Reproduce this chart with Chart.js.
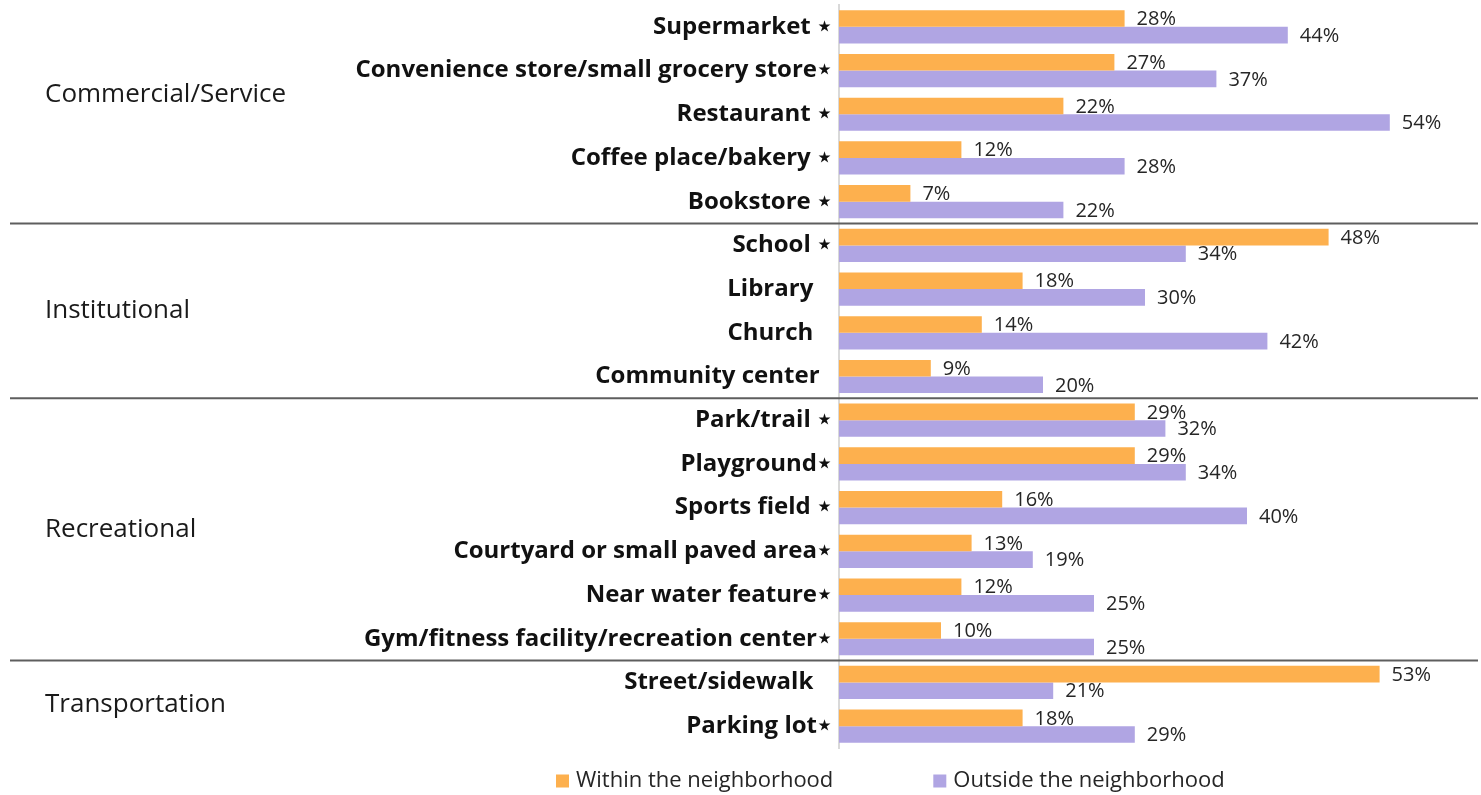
<!DOCTYPE html>
<html>
<head>
<meta charset="utf-8">
<script src="https://cdn.jsdelivr.net/npm/chart.js@4.4.1/dist/chart.umd.min.js"></script>
<style>
  html, body { margin: 0; padding: 0; background: #ffffff; }
  #wrap { width: 1481px; height: 795px; }
</style>
</head>
<body>
<div id="wrap"><canvas id="chart" width="1481" height="795"></canvas></div>
<script>
// Places where people spend time, by setting
const places = [
  "Supermarket \u22C6",
  "Convenience store/small grocery store\u22C6",
  "Restaurant \u22C6",
  "Coffee place/bakery \u22C6",
  "Bookstore \u22C6",
  "School \u22C6",
  "Library   ",
  "Church   ",
  "Community center  ",
  "Park/trail \u22C6",
  "Playground\u22C6",
  "Sports field \u22C6",
  "Courtyard or small paved area\u22C6",
  "Near water feature\u22C6",
  "Gym/fitness facility/recreation center\u22C6",
  "Street/sidewalk   ",
  "Parking lot\u22C6"
];

// Share of respondents (%)
const withinNeighborhood  = [28, 27, 22, 12, 7, 48, 18, 14, 9, 29, 29, 16, 13, 12, 10, 53, 18];
const outsideNeighborhood = [44, 37, 54, 28, 22, 34, 30, 42, 20, 32, 34, 40, 19, 25, 25, 21, 29];

const seriesNames = ["Within the neighborhood", "Outside the neighborhood"];

// Setting groups: first and last row index of each
const groupNames = ["Commercial/Service", "Institutional", "Recreational", "Transportation"];
const groupFirst = [0, 5, 9, 15];
const groupLast  = [4, 8, 14, 16];

const ORANGE = "#FDB04E";
const PURPLE = "#B0A5E3";
const FONT = "'Open Sans', 'Liberation Sans', sans-serif";

// Value labels at the end of each bar
const valueLabels = {
  id: "valueLabels",
  afterDatasetsDraw(chart) {
    const ctx = chart.ctx;
    ctx.save();
    ctx.font = "20px " + FONT;
    ctx.fillStyle = "#262626";
    ctx.textAlign = "left";
    ctx.textBaseline = "middle";
    chart.data.datasets.forEach((ds, di) => {
      const meta = chart.getDatasetMeta(di);
      meta.data.forEach((bar, i) => {
        ctx.fillText(ds.data[i] + "%", bar.x + 12, bar.y + 1);
      });
    });
    ctx.restore();
  }
};

// Group dividers and group names on the left
const groupMarks = {
  id: "groupMarks",
  afterDraw(chart, args, opts) {
    const ctx = chart.ctx;
    const y = chart.scales.y;
    ctx.save();
    // dividers between groups
    ctx.strokeStyle = "#5e5e5e";
    ctx.lineWidth = 2;
    for (let g = 0; g < groupLast.length - 1; g++) {
      const yy = (y.getPixelForValue(groupLast[g]) + y.getPixelForValue(groupFirst[g + 1])) / 2;
      ctx.beginPath();
      ctx.moveTo(opts.lineLeft, yy);
      ctx.lineTo(opts.lineRight, yy);
      ctx.stroke();
    }
    // group names
    ctx.font = "26px " + FONT;
    ctx.fillStyle = "#1a1a1a";
    ctx.textAlign = "left";
    ctx.textBaseline = "middle";
    groupNames.forEach((name, g) => {
      const mid = (y.getPixelForValue(groupFirst[g]) + y.getPixelForValue(groupLast[g])) / 2;
      ctx.fillText(name, opts.textLeft, mid + opts.nudge[g]);
    });
    ctx.restore();
  }
};

// Legend row under the plot
const bottomLegend = {
  id: "bottomLegend",
  afterDraw(chart, args, opts) {
    const ctx = chart.ctx;
    ctx.save();
    ctx.font = "22px " + FONT;
    ctx.textBaseline = "middle";
    ctx.textAlign = "left";
    let x = opts.left;
    chart.data.datasets.forEach((ds) => {
      ctx.fillStyle = ds.backgroundColor;
      ctx.fillRect(x, opts.y - 6.5, 13, 13);
      ctx.fillStyle = "#262626";
      ctx.fillText(ds.label, x + 20, opts.y);
      x += 20 + ctx.measureText(ds.label).width + opts.gap;
    });
    ctx.restore();
  }
};

new Chart(document.getElementById("chart"), {
  type: "bar",
  data: {
    labels: places,
    datasets: [
      { label: seriesNames[0], data: withinNeighborhood, backgroundColor: ORANGE },
      { label: seriesNames[1], data: outsideNeighborhood, backgroundColor: PURPLE }
    ]
  },
  options: {
    indexAxis: "y",
    responsive: false,
    animation: false,
    devicePixelRatio: 1,
    categoryPercentage: 0.76,
    barPercentage: 1.0,
    layout: { padding: { top: 5, bottom: 47, left: 0, right: 30 } },
    scales: {
      x: { display: false, min: 0, max: 60 },
      y: {
        afterFit(scale) {
          scale.width = 839;
          scale.paddingTop = 0;
          scale.paddingBottom = 0;
        },
        grid: { display: true, color: "rgba(0,0,0,0)", drawTicks: false },
        border: { display: true, color: "#d9d9d9", width: 2 },
        ticks: {
          padding: 7,
          color: "#111111",
          font: { family: FONT, weight: "bold", size: 24 }
        }
      }
    },
    plugins: {
      legend: { display: false },
      tooltip: { enabled: false },
      groupMarks: { lineLeft: 10, lineRight: 1478, textLeft: 45, nudge: [-20, 0, 0, 0] },
      bottomLegend: { left: 556, y: 781, gap: 100 }
    }
  },
  plugins: [valueLabels, groupMarks, bottomLegend]
});
</script>
</body>
</html>
